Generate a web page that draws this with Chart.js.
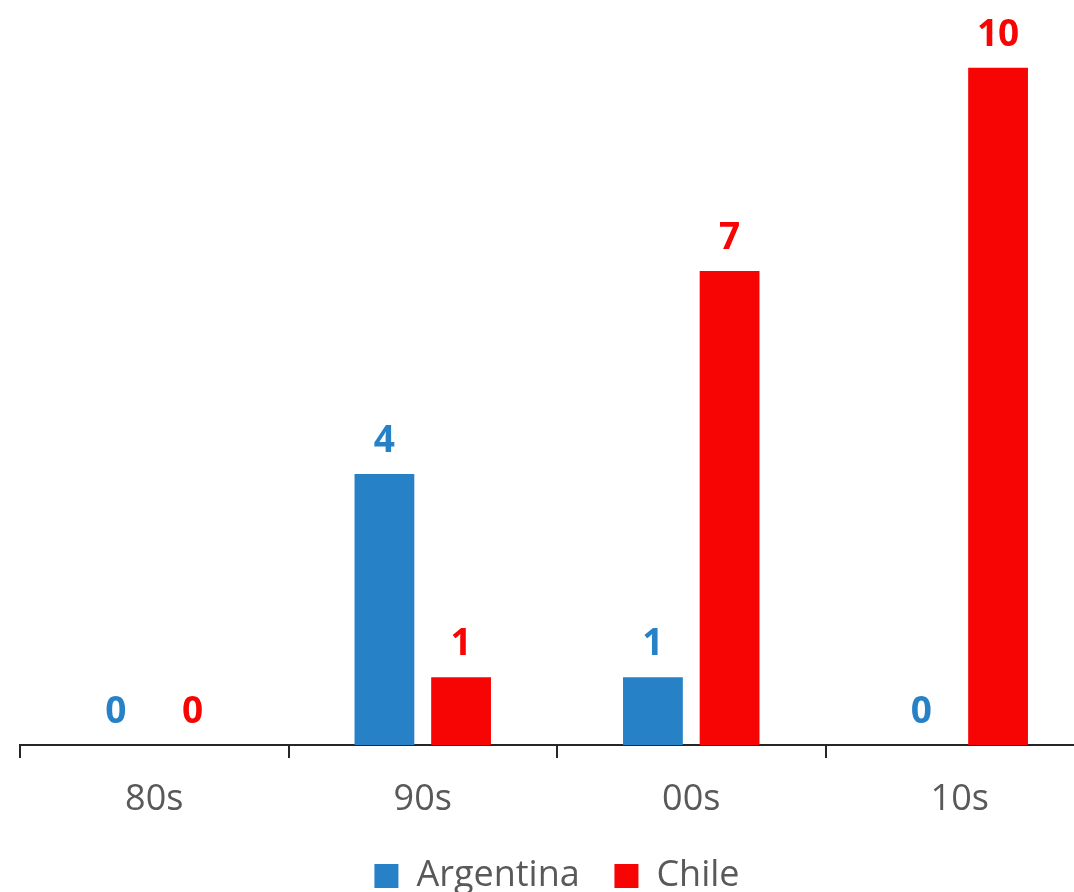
<!DOCTYPE html>
<html>
<head>
<meta charset="utf-8">
<script src="https://cdn.jsdelivr.net/npm/chart.js@4/dist/chart.umd.min.js"></script>
<style>
  html, body { margin: 0; padding: 0; background: #fff; overflow: hidden; }
  #wrap { width: 1094px; height: 892px; position: relative; }
</style>
</head>
<body>
<div id="wrap"><canvas id="chart"></canvas></div>
<script>
// chart data
const decades = ["80s", "90s", "00s", "10s"];
const argentina = [0, 4, 1, 0];
const chile = [0, 1, 7, 10];

const blue = "#2681C6";
const red = "#F70505";
const gray = "#595959";

// draws the bold value above each bar
const valueLabels = {
  id: "valueLabels",
  afterDatasetsDraw(chart) {
    const ctx = chart.ctx;
    ctx.save();
    ctx.font = "bold 37px 'Open Sans'";
    ctx.textAlign = "center";
    ctx.textBaseline = "alphabetic";
    chart.data.datasets.forEach((ds, i) => {
      const meta = chart.getDatasetMeta(i);
      ctx.fillStyle = ds.backgroundColor;
      meta.data.forEach((bar, j) => {
        ctx.fillText(ds.data[j], bar.x, bar.y - 22);
      });
    });
    ctx.restore();
  }
};

new Chart(document.getElementById("chart"), {
  type: "bar",
  data: {
    labels: decades,
    datasets: [
      { label: "Argentina", data: argentina, backgroundColor: blue,
        categoryPercentage: 0.571, barPercentage: 0.78 },
      { label: "Chile", data: chile, backgroundColor: red,
        categoryPercentage: 0.571, barPercentage: 0.78 }
    ]
  },
  options: {
    responsive: true,
    maintainAspectRatio: false,
    animation: false,
    layout: { padding: { left: 20, right: 0, top: 0, bottom: -12 } },
    scales: {
      x: {
        border: { display: true, color: "#262626", width: 2 },
        grid: { display: true, drawOnChartArea: false, drawTicks: true,
                tickLength: 13, color: "#262626", lineWidth: 2 },
        ticks: { color: gray, font: { family: "'Open Sans'", size: 36, lineHeight: 1 }, padding: 24 }
      },
      y: { display: false, min: 0, max: 11 }
    },
    plugins: {
      legend: {
        position: "bottom",
        labels: {
          color: gray,
          font: { family: "'Open Sans'", size: 36 },
          boxWidth: 24,
          boxHeight: 24,
          padding: 16,
          // a little extra room after the first entry
          generateLabels(chart) {
            const items = Chart.defaults.plugins.legend.labels.generateLabels(chart);
            items[0].text += "  ";
            return items;
          }
        }
      },
      tooltip: { enabled: false }
    }
  },
  plugins: [valueLabels]
});
</script>
</body>
</html>
